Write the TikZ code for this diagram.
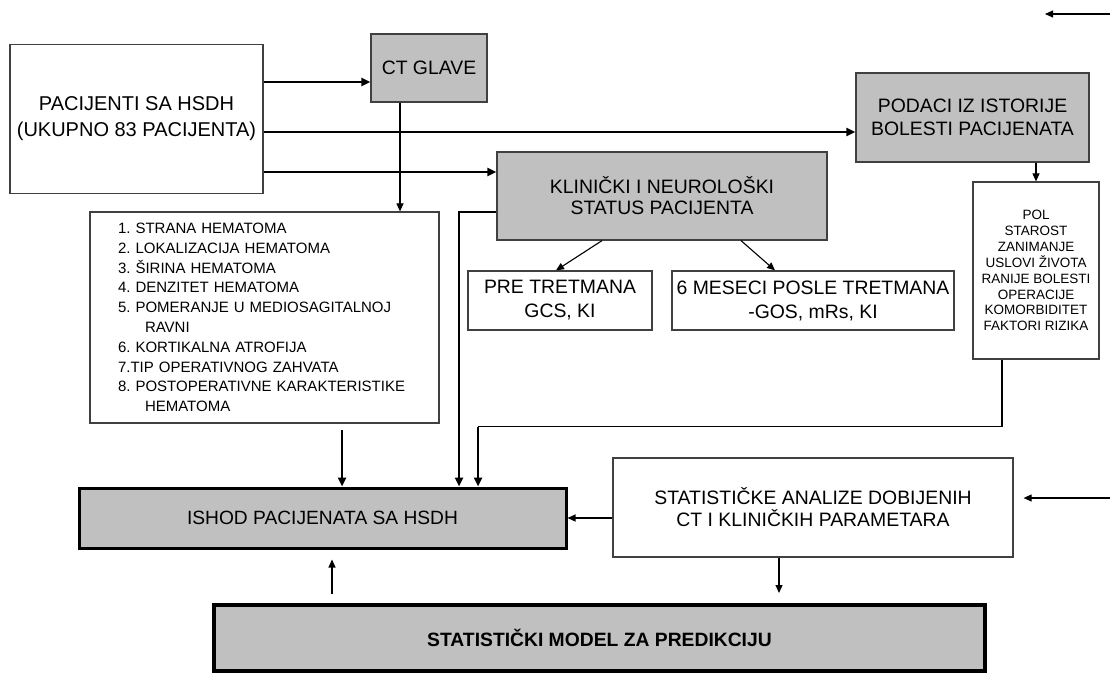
\documentclass[tikz,border=0pt]{standalone}
\usepackage{fontspec}
\setmainfont{Liberation Sans}
\usetikzlibrary{arrows.meta}
\definecolor{boxgray}{HTML}{C0C0C0}
\definecolor{edgegray}{HTML}{404040}
\frenchspacing

\begin{document}
\begin{tikzpicture}[x=1pt, y=-1pt,
  box/.style = {draw=edgegray, line width=1.2pt, fill=white, inner sep=0pt, align=center, font=\fontsize{19.4}{24}\selectfont},
  graybox/.style = {box, fill=boxgray},
  heavybox/.style = {graybox, draw=black, line width=3pt},
  thin arrow/.style = {line width=1.1pt, -{Triangle[length=8pt, width=7pt]}},
  thick arrow/.style = {line width=2.8pt, -{Triangle[length=9pt, width=8pt]}}]
  \useasboundingbox (0,0) rectangle (1110,675);

  \node[box, minimum width=253pt, minimum height=149pt, font=\fontsize{20}{26}\selectfont] (pac) at (136.5,119) {PACIJENTI SA HSDH\\(UKUPNO 83 PACIJENTA)};
  \node[graybox, minimum width=116pt, minimum height=68pt] (ct) at (429,68) {CT GLAVE};
  \node[graybox, minimum width=233pt, minimum height=89pt, font=\fontsize{19.4}{23}\selectfont] (pod) at (972.5,117.5) {PODACI IZ ISTORIJE\\BOLESTI PACIJENATA};
  \node[graybox, minimum width=330pt, minimum height=88pt, font=\fontsize{19.4}{21}\selectfont] (kli) at (662,196) {KLINIČKI I NEUROLOŠKI\\STATUS PACIJENTA};
  \node[box, minimum width=349pt, minimum height=211pt, text width=293pt, inner xsep=28pt, align=left, font=\fontsize{15}{19.8}\selectfont] (lst) at (264.5,317.5) {1. STRANA HEMATOMA\\2. LOKALIZACIJA HEMATOMA\\3. ŠIRINA HEMATOMA\\4. DENZITET HEMATOMA\\5. POMERANJE U MEDIOSAGITALNOJ\\\hspace*{27pt}RAVNI\\6. KORTIKALNA ATROFIJA\\7.TIP OPERATIVNOG ZAHVATA\\8. POSTOPERATIVNE KARAKTERISTIKE\\\hspace*{27pt}HEMATOMA};
  \node[box, minimum width=184pt, minimum height=59pt] (pre) at (560,300.5) {PRE TRETMANA\\GCS, KI};
  \node[box, minimum width=282pt, minimum height=59pt] (mes) at (813,300.5) {6 MESECI POSLE TRETMANA\\-GOS, mRs, KI};
  \node[box, minimum width=126pt, minimum height=177pt, font=\fontsize{13.5}{15.9}\selectfont] (pol) at (1036,270.5) {POL\\STAROST\\ZANIMANJE\\USLOVI ŽIVOTA\\RANIJE BOLESTI\\OPERACIJE\\KOMORBIDITET\\FAKTORI RIZIKA};
  \node[heavybox, minimum width=487pt, minimum height=60pt, font=\fontsize{19.2}{23}\selectfont] (ish) at (322.5,518) {ISHOD PACIJENATA SA HSDH};
  \node[box, minimum width=400pt, minimum height=99pt, font=\fontsize{19.4}{22}\selectfont] (sa) at (813,507.5) {STATISTIČKE ANALIZE DOBIJENIH\\CT I KLINIČKIH PARAMETARA};
  \node[heavybox, line width=4pt, minimum width=771pt, minimum height=66pt, font=\fontsize{19.3}{23}\selectfont\bfseries] (sm) at (599.5,638) {STATISTIČKI MODEL ZA PREDIKCIJU};

  \coordinate (ctin) at ([yshift=-14pt]ct.west);
  \coordinate (podin) at ([yshift=-14.5pt]pod.west);
  \coordinate (kliin) at ([yshift=24pt]kli.west);
  \draw[thick arrow] (pac.east |- ctin) -- (ctin);
  \draw[thick arrow] (pac.east |- podin) -- (podin);
  \draw[thick arrow] (pac.east |- kliin) -- (kliin);

  \coordinate (ctout) at ([xshift=-29pt]ct.south);
  \draw[thin arrow] (ctout) -- (ctout |- lst.north);
  \draw[thin arrow] (pol.north |- pod.south) -- (pol.north);
  \draw[thin arrow] ([xshift=-60pt]kli.south) -- ([xshift=-4pt]pre.north);
  \draw[thin arrow] ([xshift=79pt]kli.south) -- ([xshift=-38pt]mes.north);

  \coordinate (kliout) at ([yshift=-16pt]kli.west);
  \draw[thick arrow] (kliout) -| ([xshift=136.5pt]ish.north);
  \coordinate (polout) at ([xshift=-34pt]pol.south);
  \coordinate (polbend) at ([xshift=155.5pt, yshift=60pt]ish.north);
  \draw[line width=1.2pt] (polout) |- (polbend);
  \draw[thick arrow] (polbend) -- (polbend |- ish.north);
  \coordinate (lstout) at ([xshift=77.5pt, yshift=-6pt]lst.south);
  \draw[thick arrow] (lstout) -- (lstout |- ish.north);

  \draw[thin arrow] (sa.west |- ish.east) -- (ish.east);
  \coordinate (saout) at ([xshift=-34pt]sa.south);
  \coordinate (smin) at ([xshift=179.5pt, yshift=10pt]sm.north);
  \draw[thin arrow] (saout) -- (smin);
  \coordinate (smout) at ([xshift=-267.5pt, yshift=9pt]sm.north);
  \coordinate (ishin) at ([xshift=9.5pt, yshift=-10pt]ish.south);
  \draw[thin arrow] (smout) -- (ishin);

  \coordinate (rin) at (1110,498);
  \coordinate (sain) at ([xshift=10pt, yshift=9.5pt]sa.east);
  \draw[thin arrow] (rin) -- (sain);
  \coordinate (topa) at (1110,14);
  \coordinate (topb) at (1045,14);
  \draw[thin arrow] (topa) -- (topb);
\end{tikzpicture}
\end{document}
